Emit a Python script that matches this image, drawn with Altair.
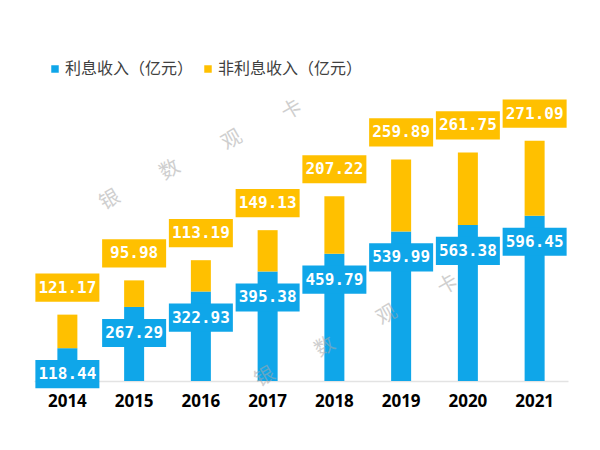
import altair as alt
import pandas as pd

years = ["2014", "2015", "2016", "2017", "2018", "2019", "2020", "2021"]
interest = [118.44, 267.29, 322.93, 395.38, 459.79, 539.99, 563.38, 596.45]
non_interest = [121.17, 95.98, 113.19, 149.13, 207.22, 259.89, 261.75, 271.09]
series = ["利息收入（亿元）", "非利息收入（亿元）"]
colors = ["#0FA6E9", "#FFC000"]

wm_chars = ["银", "数", "观", "卡", "银", "数", "观", "卡"]
wm_px = [110, 170, 232, 292, 265, 325, 387, 448]
wm_py = [200, 170, 140, 110, 377, 347, 315, 285]

rows = []
for yr, a, b in zip(years, interest, non_interest):
    rows.append({"year": yr, "type": series[0], "y0": 0.0, "y1": a, "val": a})
    rows.append({"year": yr, "type": series[1], "y0": a, "y1": a + b, "val": b})
df = pd.DataFrame(rows)
df["label"] = df["val"].map(lambda v: f"{v:.2f}")

wm = pd.DataFrame({"ch": wm_chars, "px": wm_px, "py": wm_py})

x_enc = alt.X(
    "year:N",
    sort=years,
    scale=alt.Scale(paddingInner=0, paddingOuter=0),
    axis=alt.Axis(
        title=None, labelAngle=0, ticks=False, labelFont="Open Sans",
        labelFontSize=17, labelFontWeight="bold", labelColor="#000000",
        labelPadding=12, domainColor="#E3E3E3", domainWidth=1.5,
    ),
)
y_scale = alt.Scale(domain=[0, 1000])

base = alt.Chart(df)

bars = base.mark_bar(size=20).encode(
    x=x_enc,
    y=alt.Y("y1:Q", scale=y_scale, axis=None, stack=None),
    y2="y0:Q",
    color=alt.Color(
        "type:N",
        scale=alt.Scale(domain=series, range=colors),
        legend=alt.Legend(
            title=None, orient="none", legendX=13, legendY=-43,
            direction="horizontal", symbolType="square", symbolSize=56,
            symbolStrokeWidth=0, labelFont="Noto Sans CJK SC",
            labelFontSize=16, labelColor="#404040", columnPadding=6,
            labelOffset=2,
        ),
    ),
)

box_path = "M-1,-0.44L1,-0.44L1,0.44L-1,0.44Z"

def label_layer(kind, color, offset):
    sub = base.transform_filter(alt.datum.type == kind)
    box = sub.mark_point(
        shape=box_path, size=4096, filled=True, opacity=1,
        color=color, strokeWidth=0, yOffset=offset,
    ).encode(x=x_enc, y=alt.Y("y1:Q", scale=y_scale, axis=None))
    txt = sub.mark_text(
        font="DejaVu Sans Mono", fontSize=16, fontWeight="bold",
        color="white", baseline="middle", align="center", dy=offset,
    ).encode(x=x_enc, y=alt.Y("y1:Q", scale=y_scale, axis=None), text="label:N")
    return box + txt

blue_lab = label_layer(series[0], colors[0], 26)
orange_lab = label_layer(series[1], colors[1], -27)

wm_layer = alt.Chart(wm).mark_text(
    font="Noto Sans CJK SC", fontSize=20, color="#A8A8A8", opacity=0.55,
    angle=330, baseline="middle", align="center",
).transform_calculate(
    px2="datum.px - 34", py2="datum.py - 104"
).encode(
    x=alt.X("px2:Q", scale=None, axis=None),
    y=alt.Y("py2:Q", scale=None, axis=None),
    text="ch:N",
)

chart = alt.layer(bars, blue_lab, orange_lab, wm_layer).properties(
    width=534, height=277,
    autosize=alt.AutoSizeParams(type="none"),
    padding={"left": 34, "top": 104, "right": 32, "bottom": 69},
).configure(background="white").configure_view(stroke=None)

chart.save("out.html", embed_options={"renderer": "svg", "actions": False})
